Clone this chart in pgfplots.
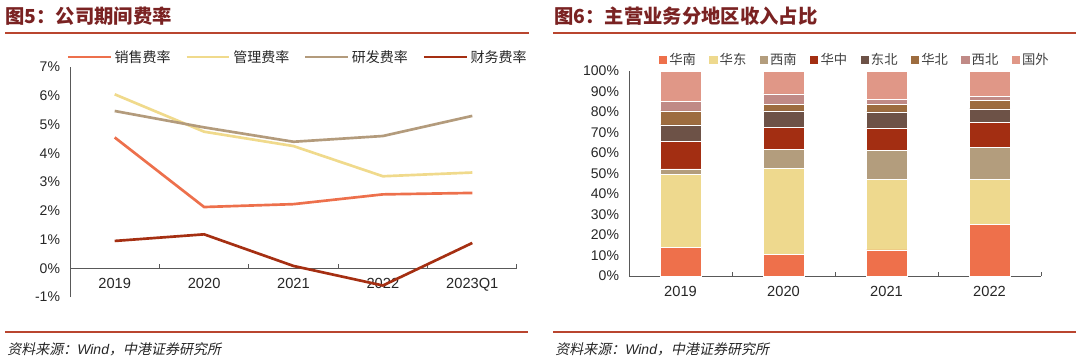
\documentclass[border=0pt]{standalone}
\usepackage{fontspec}
\setmainfont{Liberation Sans}
\newfontfamily\cjk{Noto Sans CJK SC}
\newfontfamily\cjkit{Noto Sans CJK SC}[FakeSlant=0.2]
\usepackage{pgfplots}
\pgfplotsset{compat=1.18}
\definecolor{titlered}{HTML}{7A2222}
\definecolor{rule}{HTML}{B9452F}
\definecolor{axisgray}{HTML}{595959}
\definecolor{csales}{HTML}{ED704C}
\definecolor{cadmin}{HTML}{F0DA8C}
\definecolor{crd}{HTML}{B39B7C}
\definecolor{cfin}{HTML}{A52F12}
\definecolor{huanan}{HTML}{EE704B}
\definecolor{huadong}{HTML}{EED98E}
\definecolor{xinan}{HTML}{B39D7D}
\definecolor{huazhong}{HTML}{A32E12}
\definecolor{dongbei}{HTML}{6D5247}
\definecolor{huabei}{HTML}{9D6C3F}
\definecolor{xibei}{HTML}{C08A86}
\definecolor{guowai}{HTML}{E09787}
\pgfplotsset{
  seg/.style={fill=#1, draw=white, line width=0.4pt,
    legend image code/.code={\fill[#1] (0pt,-2.7pt) rectangle (5.4pt,2.7pt);}},
}
\begin{document}
\begin{tikzpicture}
\begin{scope}[x=0.75pt,y=-0.75pt]
\path[use as bounding box] (0,0) rectangle (1080,361);
\coordinate (L) at (70,297);
\coordinate (R) at (629,276);
\draw[rule, line width=1.5pt] (5,33) -- (529,33);
\draw[rule, line width=1.5pt] (553,33) -- (1076,33);
\draw[rule, line width=1.5pt] (5,332) -- (528,332);
\draw[rule, line width=1.5pt] (553,332) -- (1076,332);
\node[anchor=west, inner sep=0pt, text=titlered, font=\cjk\bfseries\fontsize{14.5}{16}\selectfont] at (5,16) {图5：公司期间费率};
\node[anchor=west, inner sep=0pt, text=titlered, font=\cjk\bfseries\fontsize{14.5}{16}\selectfont] at (554,16) {图6：主营业务分地区收入占比};
\node[anchor=west, inner sep=0pt, text=black!85, font=\fontsize{10.5}{12}\selectfont] at (7,349) {{\cjkit 资料来源：}{\itshape Wind}{\cjkit ，中港证券研究所}};
\node[anchor=west, inner sep=0pt, text=black!85, font=\fontsize{10.5}{12}\selectfont] at (555,349) {{\cjkit 资料来源：}{\itshape Wind}{\cjkit ，中港证券研究所}};
\end{scope}

\begin{axis}[at={(L)}, anchor=south west, scale only axis,
  width=335.25pt, height=172.5pt,
  xmin=-0.5, xmax=4.5, ymin=-1, ymax=7,
  axis x line=middle, axis y line=left,
  axis line style={-, draw=axisgray, line width=0.75pt},
  every inner x axis line/.append style={-},
  every outer y axis line/.append style={-},
  clip=false,
  xtick={0,1,2,3,4},
  xticklabels={2019,2020,2021,2022,2023Q1},
  ytick={-1,0,1,2,3,4,5,6,7},
  yticklabels={-1\%,0\%,1\%,2\%,3\%,4\%,5\%,6\%,7\%},
  major tick length=0pt,
  extra x ticks={0.5,1.5,2.5,3.5,4.5},
  extra x tick labels={},
  extra x tick style={major tick length=3pt, xtick align=inside, tick style={draw=axisgray, line width=0.75pt}},
  xticklabel style={font=\fontsize{11}{12}\selectfont, text=black!85, yshift=-4pt},
  yticklabel style={font=\fontsize{10.5}{12}\selectfont, text=black!85, xshift=-4pt},
  legend style={at={(0.51,1.043)}, anchor=center, draw=none, fill=none,
    font=\cjk\fontsize{10.5}{12}\selectfont, text=black!85,
    /tikz/every even column/.append style={column sep=9pt}},
  legend columns=4,
  legend image code/.code={\draw[#1] (0pt,0pt) -- (32pt,0pt);},
]
\addplot[csales, line width=2pt] coordinates {(0,4.55) (1,2.13) (2,2.23) (3,2.57) (4,2.62)};
\addlegendentry{销售费率}
\addplot[cadmin, line width=2pt] coordinates {(0,6.05) (1,4.75) (2,4.25) (3,3.2) (4,3.33)};
\addlegendentry{管理费率}
\addplot[crd, line width=2pt] coordinates {(0,5.47) (1,4.9) (2,4.4) (3,4.6) (4,5.3)};
\addlegendentry{研发费率}
\addplot[cfin, line width=2pt] coordinates {(0,0.95) (1,1.18) (2,0.08) (3,-0.6) (4,0.88)};
\addlegendentry{财务费率}
\end{axis}

\begin{axis}[at={(R)}, anchor=south west, scale only axis,
  width=309pt, height=153.75pt,
  ybar stacked, bar width=30.75pt,
  xmin=-0.5, xmax=3.5, ymin=0, ymax=100,
  axis x line=bottom, axis y line=left,
  axis line style={-, draw=axisgray, line width=0.75pt},
  every outer x axis line/.append style={-},
  every outer y axis line/.append style={-},
  xtick={0,1,2,3},
  xticklabels={2019,2020,2021,2022},
  ytick={0,10,20,30,40,50,60,70,80,90,100},
  yticklabels={0\%,10\%,20\%,30\%,40\%,50\%,60\%,70\%,80\%,90\%,100\%},
  major tick length=0pt,
  extra x ticks={0.5,1.5,2.5,3.5},
  extra x tick labels={},
  extra x tick style={major tick length=3pt, xtick align=inside, tick style={draw=axisgray, line width=0.75pt}},
  xticklabel style={font=\fontsize{11}{12}\selectfont, text=black!85, yshift=-4pt},
  yticklabel style={font=\fontsize{10.5}{12}\selectfont, text=black!85, xshift=-4pt},
  legend style={at={(0.549,1.054)}, anchor=center, draw=none, fill=none,
    font=\cjk\fontsize{10}{12}\selectfont, text=black!75,
    /tikz/every even column/.append style={column sep=8pt}},
  legend columns=8,
]
\addplot[seg=huanan] coordinates {(0,14.0) (1,10.6) (2,12.7) (3,25.2)};
\addlegendentry{华南}
\addplot[seg=huadong] coordinates {(0,35.6) (1,41.9) (2,34.3) (3,22.1)};
\addlegendentry{华东}
\addplot[seg=xinan] coordinates {(0,2.6) (1,9.3) (2,14.1) (3,15.5)};
\addlegendentry{西南}
\addplot[seg=huazhong] coordinates {(0,13.3) (1,10.7) (2,11.2) (3,12.0)};
\addlegendentry{华中}
\addplot[seg=dongbei] coordinates {(0,8.2) (1,8.0) (2,7.8) (3,6.7)};
\addlegendentry{东北}
\addplot[seg=huabei] coordinates {(0,6.9) (1,3.2) (2,3.6) (3,4.0)};
\addlegendentry{华北}
\addplot[seg=xibei] coordinates {(0,4.4) (1,5.1) (2,2.5) (3,2.0)};
\addlegendentry{西北}
\addplot[seg=guowai] coordinates {(0,15.0) (1,11.2) (2,13.8) (3,12.5)};
\addlegendentry{国外}
\end{axis}
\end{tikzpicture}
\end{document}
